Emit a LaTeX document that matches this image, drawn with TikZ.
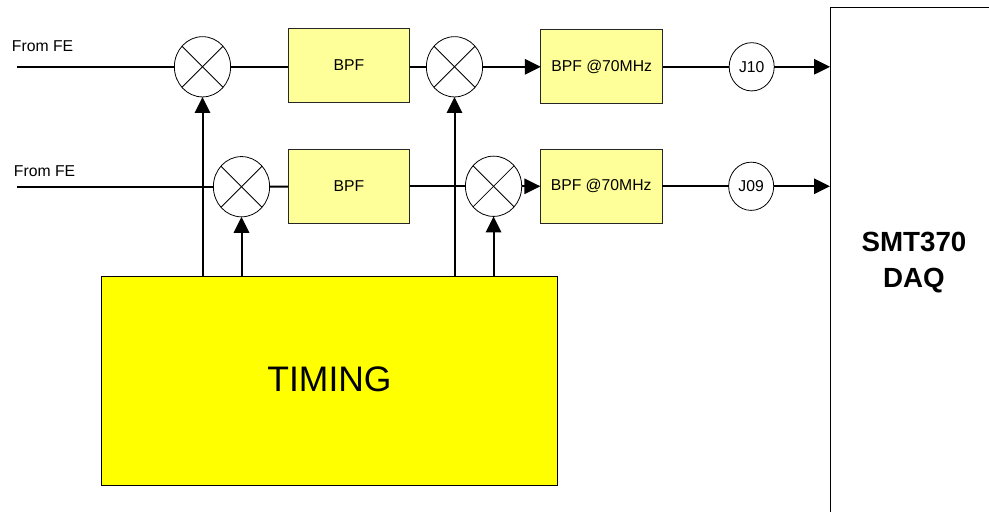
\documentclass[tikz,border=0pt]{standalone}
\usepackage{fontspec}
\setmainfont{Liberation Sans}
\usepackage{tikz}
\usetikzlibrary{arrows.meta,positioning,shapes.geometric}
\definecolor{filtyel}{RGB}{255,255,153}
\definecolor{timeyel}{RGB}{255,255,0}

\begin{document}
\begin{tikzpicture}[x=0.75pt,y=-0.75pt,font=\fontsize{11.8}{13}\selectfont,
filt/.style={draw=black!85,line width=0.7pt,fill=filtyel,align=center,inner sep=0pt,outer sep=0pt,minimum height=55.6pt,minimum width=91.2pt},
mix/.style={draw,ellipse,fill=white,line width=0.6pt,inner sep=0pt,outer sep=0pt,minimum height=45.2pt,minimum width=42.2pt},
jack/.style={draw,ellipse,line width=0.6pt,inner sep=0pt,outer sep=0pt,minimum height=36.2pt,minimum width=33.8pt},
lbl/.style={inner sep=0pt,outer sep=0pt},
wire/.style={line width=1.5pt},
arr/.style={wire,-{Triangle[length=12pt,width=11.5pt]}}]
\useasboundingbox (0,0) rectangle (989,511);
\coordinate (in1) at (16.5,66.8);
\coordinate (in2) at (16.5,186.7);
\node[lbl,above right=11.5pt and -3.4pt of in1] (from1) {From FE};
\node[lbl,above right=7.8pt and -1.9pt of in2] (from2) {From FE};
\node[mix] (mix1) at (202.5,66.8) {};
\node[mix] (mix2) at (241.5,186.7) {};
\node[filt,right=43.1pt of mix1,yshift=1pt] (bpf1) {BPF};
\node[filt,below=35pt of bpf1] (bpf2) {BPF};
\node[mix,right=12.5pt of bpf1,yshift=-1pt] (mix3) {};
\node[mix,right=41.8pt of bpf2] (mix4) {};
\node[filt,right=43.7pt of mix3] (bpf3) {BPF @70MHz};
\node[filt,right=14pt of mix4] (bpf4) {BPF @70MHz};
\node[jack,right=50pt of bpf3] (j10) {J10};
\node[jack,right=50pt of bpf4] (j09) {J09};
\node[draw,line width=0.7pt,fill=timeyel,outer sep=0pt,minimum width=342pt,minimum height=157pt,text depth=3pt,font=\fontsize{26.6}{30}\selectfont] (timing) at (329.5,381) {TIMING};
\node[draw,line width=0.7pt,align=center,outer sep=0pt,minimum width=126pt,minimum height=384pt,font=\fontsize{20.8}{27}\selectfont\bfseries] (daq) at (914,263) {SMT370\\DAQ};
\foreach \m in {mix1,mix2,mix3,mix4}{
\draw[line width=0.6pt] (\m.45)--(\m.225);
\draw[line width=0.6pt] (\m.135)--(\m.315);
}
\draw[wire](in1)--(mix1);
\draw[wire](in2)--(mix2);
\draw[wire](mix1)--(mix1-|bpf1.west);
\draw[wire](mix2)--(bpf2);
\draw[wire](mix3-|bpf1.east)--(mix3);
\draw[wire](bpf2)--(mix4);
\draw[arr](mix3)--(bpf3);
\draw[arr](mix4)--(bpf4);
\draw[wire](bpf3)--(j10);
\draw[wire](bpf4)--(j09);
\draw[arr](j10)--(j10-|daq.west);
\draw[arr](j09)--(j09-|daq.west);
\draw[arr](mix1|-timing.north)--(mix1);
\draw[arr](mix2|-timing.north)--(mix2);
\draw[arr](mix3|-timing.north)--(mix3);
\draw[arr](mix4|-timing.north)--(mix4);
\end{tikzpicture}
\end{document}
